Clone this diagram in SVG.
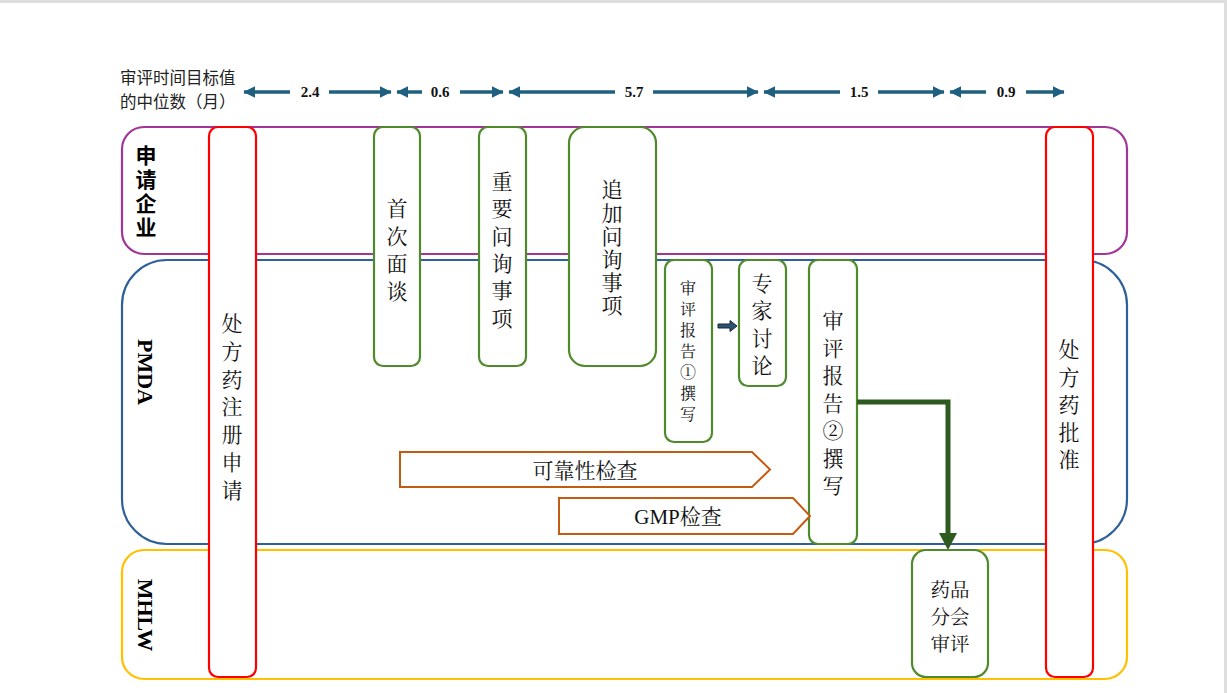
<svg xmlns="http://www.w3.org/2000/svg" width="1227" height="693" viewBox="0 0 1227 693">
<style>
.lane{fill:none;stroke-width:2.2}
.red{fill:#fff;stroke:#ff0000;stroke-width:2.2}
.grn{fill:#fff;stroke:#4f8a2c;stroke-width:2.2}
.chk{fill:#fff;stroke:#c55a11;stroke-width:2}
.t{font-family:"Noto Serif CJK SC","Noto Sans CJK SC",serif;font-size:21px;fill:#111;text-anchor:middle}
.ts{font-family:"Noto Serif CJK SC","Noto Sans CJK SC",serif;font-size:16px;fill:#111;text-anchor:middle}
.num{font-family:"Liberation Serif",serif;font-weight:bold;font-size:15px;fill:#111;text-anchor:middle}
.lbl{font-family:"Liberation Serif",serif;font-weight:bold;font-size:22px;fill:#000;text-anchor:middle}
.tl{stroke:#1f6080;stroke-width:3.5;fill:none}
.hd{font-family:"Noto Sans CJK SC",sans-serif;font-size:16.5px;fill:#222}
.lane-cn{font-family:"Noto Sans CJK SC",sans-serif;font-weight:bold;font-size:21px;fill:#000;writing-mode:vertical-rl;letter-spacing:3px}
.vt{font-family:"Noto Serif CJK SC","Noto Sans CJK SC",serif;font-size:21px;fill:#111;writing-mode:vertical-rl;letter-spacing:2.2px}
</style>
<defs>
<marker id="ah" markerWidth="4" markerHeight="4" refX="3.2" refY="2" orient="auto-start-reverse" markerUnits="strokeWidth"><path d="M0,0.3 L3.4,2 L0,3.7 z" fill="#1f6080"/></marker>
</defs>
<rect x="0" y="0" width="1227" height="3" fill="#dedede"/>
<rect x="1224" y="0" width="3" height="693" fill="#dedede"/>

<g id="header">
<text class="hd" x="120" y="83.5">审评时间目标值</text>
<text class="hd" x="120" y="107.5">的中位数（月）</text>
</g>

<g id="lanes">
<rect class="lane" x="122" y="127" width="1005" height="127" rx="22" stroke="#a0369a"/>
<rect class="lane" x="122" y="260" width="1005" height="284" rx="45" stroke="#2e6099"/>
<rect class="lane" x="122" y="550" width="1005" height="129" rx="22" stroke="#ffc000"/>
<text class="lane-cn" x="146" y="145">申请企业</text>
<text class="lbl" transform="translate(138,372) rotate(90)">PMDA</text>
<text class="lbl" transform="translate(138,615) rotate(90)">MHLW</text>
</g>

<g id="timeline">
<line class="tl" x1="290" y1="92" x2="244" y2="92" marker-end="url(#ah)"/>
<text class="num" x="310" y="97">2.4</text>
<line class="tl" x1="329" y1="92" x2="391" y2="92" marker-end="url(#ah)"/>
<line class="tl" x1="422" y1="92" x2="397" y2="92" marker-end="url(#ah)"/>
<text class="num" x="440" y="97">0.6</text>
<line class="tl" x1="460" y1="92" x2="503" y2="92" marker-end="url(#ah)"/>
<line class="tl" x1="615" y1="92" x2="509" y2="92" marker-end="url(#ah)"/>
<text class="num" x="634" y="97">5.7</text>
<line class="tl" x1="653" y1="92" x2="758" y2="92" marker-end="url(#ah)"/>
<line class="tl" x1="840" y1="92" x2="764" y2="92" marker-end="url(#ah)"/>
<text class="num" x="859" y="97">1.5</text>
<line class="tl" x1="878" y1="92" x2="944" y2="92" marker-end="url(#ah)"/>
<line class="tl" x1="986" y1="92" x2="950" y2="92" marker-end="url(#ah)"/>
<text class="num" x="1006" y="97">0.9</text>
<line class="tl" x1="1026" y1="92" x2="1064" y2="92" marker-end="url(#ah)"/>
</g>

<g id="n-apply">
<rect class="red" x="209" y="127" width="47" height="550" rx="9"/>
<text class="t" x="232" y="331"><tspan x="232">处</tspan><tspan x="232" dy="27.8">方</tspan><tspan x="232" dy="27.8">药</tspan><tspan x="232" dy="27.8">注</tspan><tspan x="232" dy="27.8">册</tspan><tspan x="232" dy="27.8">申</tspan><tspan x="232" dy="27.8">请</tspan></text>
</g>
<g id="n-approve">
<rect class="red" x="1046" y="127" width="47" height="550" rx="9"/>
<text class="t" x="1069" y="357"><tspan x="1069">处</tspan><tspan x="1069" dy="27.5">方</tspan><tspan x="1069" dy="27.5">药</tspan><tspan x="1069" dy="27.5">批</tspan><tspan x="1069" dy="27.5">准</tspan></text>
</g>

<g id="n-first">
<rect class="grn" x="374" y="127" width="46" height="239" rx="9"/>
<text class="t" x="397" y="216"><tspan x="397">首</tspan><tspan x="397" dy="27.5">次</tspan><tspan x="397" dy="27.5">面</tspan><tspan x="397" dy="27.5">谈</tspan></text>
</g>
<g id="n-important">
<rect class="grn" x="479" y="127" width="47" height="239" rx="9"/>
<text class="t" x="502" y="189"><tspan x="502">重</tspan><tspan x="502" dy="27.3">要</tspan><tspan x="502" dy="27.3">问</tspan><tspan x="502" dy="27.3">询</tspan><tspan x="502" dy="27.3">事</tspan><tspan x="502" dy="27.3">项</tspan></text>
</g>
<g id="n-additional">
<rect class="grn" x="569" y="127" width="87" height="239" rx="16"/>
<text class="vt" x="612" y="179">追加问询事项</text>
</g>
<g id="n-report1">
<rect class="grn" x="665" y="260" width="47" height="182" rx="9"/>
<text class="ts" x="688" y="294"><tspan x="688">审</tspan><tspan x="688" dy="21">评</tspan><tspan x="688" dy="21">报</tspan><tspan x="688" dy="21">告</tspan><tspan x="688" dy="21">①</tspan><tspan x="688" dy="21">撰</tspan><tspan x="688" dy="21">写</tspan></text>
</g>
<g id="n-expert">
<rect class="grn" x="739" y="260" width="47" height="126" rx="9"/>
<text class="t" x="762" y="291"><tspan x="762">专</tspan><tspan x="762" dy="27.3">家</tspan><tspan x="762" dy="27.3">讨</tspan><tspan x="762" dy="27.3">论</tspan></text>
</g>
<g id="n-report2">
<rect class="grn" x="809" y="260" width="48" height="284" rx="9"/>
<text class="t" x="833" y="328"><tspan x="833">审</tspan><tspan x="833" dy="27.5">评</tspan><tspan x="833" dy="27.5">报</tspan><tspan x="833" dy="27.5">告</tspan><tspan x="833" dy="27.5">②</tspan><tspan x="833" dy="27.5">撰</tspan><tspan x="833" dy="27.5">写</tspan></text>
</g>
<g id="n-council">
<rect class="grn" x="912" y="550" width="76" height="127" rx="14"/>
<text class="t" x="950" y="597" style="font-size:19.5px"><tspan x="950">药品</tspan><tspan x="950" dy="27">分会</tspan><tspan x="950" dy="27">审评</tspan></text>
</g>

<g id="n-reliability">
<polygon class="chk" points="400,452 752,452 770,469.5 752,487 400,487"/>
<text class="t" x="585" y="478">可靠性检查</text>
</g>
<g id="n-gmp">
<polygon class="chk" points="559,498 793,498 810,516 793,534 559,534"/>
<text class="t" x="678" y="524" style="font-family:'Liberation Serif','Noto Serif CJK SC','Noto Sans CJK SC',serif">GMP检查</text>
</g>

<g id="connectors">
<polygon points="718,324 730,324 730,320.5 737,326 730,331.5 730,328 718,328" fill="#2b5470" stroke="#14283a" stroke-width="1"/>
<polyline points="857,402 948,402 948,534" fill="none" stroke="#2d5a1e" stroke-width="5"/>
<polygon points="939,533 957,533 948,550" fill="#2d5a1e"/>
</g>
</svg>
